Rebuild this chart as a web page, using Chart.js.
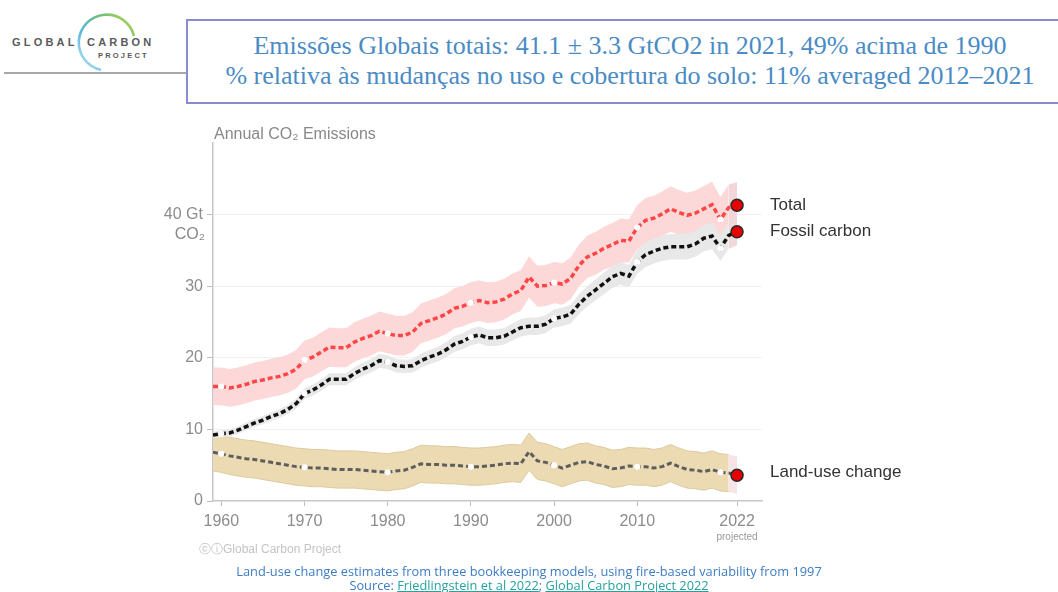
<!DOCTYPE html>
<html>
<head>
<meta charset="utf-8">
<script src="https://cdn.jsdelivr.net/npm/chart.js@4.4.1/dist/chart.umd.min.js"></script>
<style>
  html, body { margin: 0; padding: 0; background: #fff; }
  #page { position: relative; width: 1058px; height: 592px; overflow: hidden; font-family: "Liberation Sans", Arial, sans-serif; }
  #chart { position: absolute; left: 0; top: 0; }
  .logo-line { position: absolute; left: 4px; top: 72px; width: 183px; height: 2px; background: #a8a8a8; }
  .logo-txt { position: absolute; font-weight: bold; color: #5a5a5a; }
  .titlebox { position: absolute; left: 186px; top: 19px; width: 900px; height: 85px; border: 2px solid #8a8ad2; box-sizing: border-box; }
  .title { position: absolute; left: 186px; width: 888px; text-align: center; font-family: "Liberation Serif", "DejaVu Serif", serif; font-size: 26px; color: #4a8bc4; white-space: nowrap; }
  .copy { position: absolute; left: 199px; top: 541px; font-size: 12px; color: #c4c4c4; }
  .note { position: absolute; left: 0; width: 1058px; text-align: center; font-family: "Open Sans", "Noto Sans", sans-serif; font-size: 12.8px; line-height: 14px; color: #3d7cc2; }
  .note a { color: #27a0a0; text-decoration: underline; }
</style>
</head>
<body>
<div id="page">
  <svg width="190" height="80" style="position:absolute;left:0;top:0">
    <defs>
      <linearGradient id="arcg" x1="0" y1="1" x2="1" y2="0">
        <stop offset="0" stop-color="#bfe6f4"/>
        <stop offset="0.35" stop-color="#5ab8e2"/>
        <stop offset="0.7" stop-color="#6cc07a"/>
        <stop offset="1" stop-color="#c8d84a"/>
      </linearGradient>
    </defs>
    <path d="M 101 70 A 28 28 0 1 1 134 36" fill="none" stroke="url(#arcg)" stroke-width="2.6"/>
  </svg>
  <div class="logo-txt" style="left:12px;top:36px;font-size:11px;letter-spacing:3.2px">GLOBAL</div>
  <div class="logo-txt" style="left:87px;top:36px;font-size:11px;letter-spacing:3.2px">CARBON</div>
  <div class="logo-txt" style="left:98px;top:51px;font-size:7.5px;letter-spacing:2.2px">PROJECT</div>
  <div class="logo-line"></div>

  <div class="titlebox"></div>
  <div class="title" style="top:31px">Emissões Globais totais: 41.1 ± 3.3 GtCO2 in 2021, 49% acima de 1990</div>
  <div class="title" style="top:61px">% relativa às mudanças no uso e cobertura do solo: 11% averaged 2012–2021</div>

  <canvas id="chart" width="1058" height="592"></canvas>

  <div class="copy">ⓒⓘGlobal Carbon Project</div>
  <div class="note" style="top:564px">Land-use change estimates from three bookkeeping models, using fire-based variability from 1997</div>
  <div class="note" style="top:578px">Source: <a>Friedlingstein et al 2022</a>; <a>Global Carbon Project 2022</a></div>
</div>

<script>
// annual values in GtCO2, 1959 .. 2022 (2022 = projection)
const firstYear = 1959;
const fossil = [
  9.2, 9.4, 9.5, 9.9, 10.4, 10.9, 11.3, 11.8, 12.2, 12.8, 13.6,
  15.0, 15.5, 16.2, 17.0, 17.0, 17.0, 17.8, 18.4, 18.9, 19.6,
  19.4, 18.9, 18.8, 18.9, 19.6, 20.1, 20.5, 21.1, 21.9, 22.3,
  22.9, 23.2, 22.8, 22.8, 23.0, 23.6, 24.2, 24.4, 24.4, 24.7,
  25.5, 25.7, 26.1, 27.5, 28.6, 29.5, 30.4, 31.3, 31.8, 31.4,
  33.4, 34.4, 34.9, 35.3, 35.5, 35.5, 35.5, 35.9, 36.7, 37.0,
  35.3, 37.1, 37.6
];
const landUse = [
  6.8, 6.6, 6.3, 6.1, 5.9, 5.8, 5.6, 5.4, 5.2, 5.0, 4.8,
  4.7, 4.6, 4.6, 4.5, 4.4, 4.4, 4.4, 4.3, 4.2, 4.1,
  4.0, 4.2, 4.3, 4.7, 5.2, 5.1, 5.1, 5.0, 5.0, 4.9,
  4.8, 4.8, 4.9, 5.0, 5.2, 5.3, 5.2, 6.9, 5.6, 5.4,
  5.0, 4.6, 5.0, 5.4, 5.5, 5.1, 4.9, 4.5, 4.6, 4.9,
  4.8, 4.8, 4.6, 4.8, 5.3, 4.8, 4.4, 4.3, 4.1, 4.4,
  4.0, 3.9, 3.6
];
const total = [
  16.0, 16.0, 15.8, 16.0, 16.3, 16.7, 16.9, 17.2, 17.4, 17.8, 18.4,
  19.7, 20.1, 20.8, 21.5, 21.4, 21.4, 22.2, 22.7, 23.1, 23.7,
  23.4, 23.1, 23.1, 23.6, 24.8, 25.2, 25.6, 26.1, 26.9, 27.2,
  27.7, 28.0, 27.7, 27.8, 28.2, 28.9, 29.4, 31.3, 30.0, 30.1,
  30.5, 30.3, 31.1, 32.9, 34.1, 34.6, 35.3, 35.8, 36.4, 36.3,
  38.2, 39.2, 39.5, 40.1, 40.8, 40.3, 39.9, 40.2, 40.8, 41.4,
  39.3, 41.0, 41.3
];
// 1-sigma uncertainty: fossil +-5 %, land-use change +-2.6 GtCO2
const fossilUncPct = 0.05;
const landUseUnc = 2.6;

const xTickYears = [1960, 1970, 1980, 1990, 2000, 2010, 2022];
const yTicks = [0, 10, 20, 30, 40];
const seriesLabels = ["Total", "Fossil carbon", "Land-use change"];

const years = fossil.map((_, i) => firstYear + i);
const last = years.length - 1;
const pts = (arr) => arr.map((v, i) => ({ x: years[i], y: v }));

const fossilErr = fossil.map(v => v * fossilUncPct);
const totalErr = fossilErr.map(e => Math.sqrt(e * e + landUseUnc * landUseUnc));

function lineSet(arr, color, width) {
  return {
    data: pts(arr),
    borderColor: color,
    borderWidth: width,
    borderDash: [5, 3],
    fill: false,
    order: 1,
    pointRadius: c => c.dataIndex === last ? 6 : (years[c.dataIndex] % 10 === 0 ? 3 : 0),
    pointBackgroundColor: c => c.dataIndex === last ? "#e60000" : "#fff",
    pointBorderColor: c => c.dataIndex === last ? "#2a2a2a" : "#fff",
    pointBorderWidth: c => c.dataIndex === last ? 1.5 : 0
  };
}
function bandSet(arr, fillTo, color, projColor, order, edge) {
  return {
    data: pts(arr),
    borderWidth: edge ? 1 : 0,
    borderColor: edge || "transparent",
    pointRadius: 0,
    fill: fillTo === null ? false : fillTo,
    backgroundColor: color,
    order: order,
    segment: {
      backgroundColor: c => c.p1DataIndex === last ? projColor : undefined,
      borderColor: c => c.p1DataIndex === last ? "transparent" : undefined
    }
  };
}

const datasets = [
  lineSet(total, "#ff4646", 3.5),
  lineSet(fossil, "#111", 3.5),
  lineSet(landUse, "#5e5e5e", 3),
  bandSet(fossil.map((v, i) => v - fossilErr[i]), null, "#e8e8e8", "#efd9dc", 5),
  bandSet(fossil.map((v, i) => v + fossilErr[i]), 3, "#e8e8e8", "#efd9dc", 5),
  bandSet(total.map((v, i) => v - totalErr[i]), null, "#fdd8d8", "#f3d6da", 6),
  bandSet(total.map((v, i) => v + totalErr[i]), 5, "#fdd8d8", "#f3d6da", 6),
  bandSet(landUse.map(v => v - landUseUnc), null, "#ebdab2", "#f6e4e6", 6, "#dccb9f"),
  bandSet(landUse.map(v => v + landUseUnc), 7, "#ebdab2", "#f6e4e6", 6, "#dccb9f")
];

// extra texts: axis title, unit, "projected", series labels
const annotations = {
  id: "annotations",
  afterDraw(chart) {
    const { ctx, scales: { x, y } } = chart;
    ctx.save();
    ctx.fillStyle = "#888";
    ctx.font = '16px "Liberation Sans", Arial, sans-serif';
    ctx.textAlign = "left";
    ctx.textBaseline = "alphabetic";
    ctx.fillText("Annual CO₂ Emissions", 214, 139);
    ctx.textAlign = "right";
    ctx.textBaseline = "middle";
    ctx.fillText("CO₂", 205, y.getPixelForValue(40) + 20);
    ctx.textAlign = "center";
    ctx.font = '10px "Liberation Sans", Arial, sans-serif';
    ctx.fillStyle = "#999";
    ctx.fillText("projected", x.getPixelForValue(2022), y.bottom + 36);
    ctx.fillStyle = "#333";
    ctx.textAlign = "left";
    ctx.font = '17px "Liberation Sans", Arial, sans-serif';
    const ends = [total[last], fossil[last], landUse[last] + 0.4];
    seriesLabels.forEach((t, i) => ctx.fillText(t, 770, y.getPixelForValue(ends[i])));
    ctx.restore();
  }
};

new Chart(document.getElementById("chart"), {
  type: "line",
  data: { datasets: datasets },
  plugins: [annotations],
  options: {
    responsive: false,
    animation: false,
    layout: { padding: { left: 0, top: 143, right: 296, bottom: 51 } },
    plugins: { legend: { display: false }, tooltip: { enabled: false } },
    scales: {
      x: {
        type: "linear",
        min: 1959,
        max: 2025,
        afterBuildTicks: s => { s.ticks = xTickYears.map(v => ({ value: v })); },
        afterFit: s => { s.height = 40; },
        grid: { drawOnChartArea: false, tickLength: 5, tickColor: "#bdbdbd" },
        border: { color: "#c6c6c6", width: 1.5 },
        ticks: { autoSkip: false, maxRotation: 0, padding: 6, color: "#8c8c8c", font: { size: 16 }, callback: v => String(v) }
      },
      y: {
        min: 0,
        max: 50,
        afterBuildTicks: s => { s.ticks = yTicks.concat([50]).map(v => ({ value: v })); },
        afterFit: s => { s.width = 213; },
        grid: {
          color: c => (c.tick && (c.tick.value === 0 || c.tick.value === 50)) ? "transparent" : "#f1f1f1",
          tickColor: c => (c.tick && c.tick.value === 50) ? "transparent" : "#bdbdbd",
          tickLength: 6
        },
        border: { color: "#c6c6c6", width: 1.5 },
        ticks: {
          padding: 4,
          color: "#8c8c8c",
          font: { size: 16 },
          callback: v => v === 50 ? "" : (v === 40 ? "40 Gt" : String(v))
        }
      }
    }
  }
});
</script>
</body>
</html>
